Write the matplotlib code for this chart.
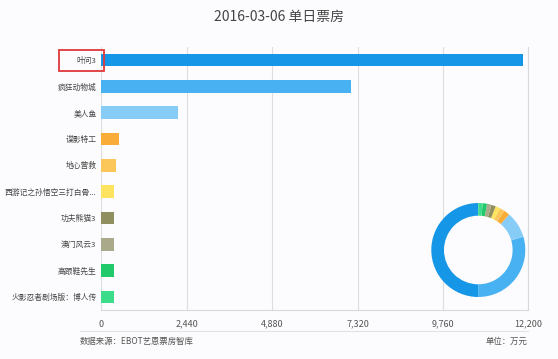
# Daily box office bar chart with donut inset
import matplotlib.pyplot as plt
from matplotlib.patches import Rectangle

plt.rcParams['font.family'] = ['Noto Sans CJK SC', 'DejaVu Sans']

films = ["叶问3", "疯狂动物城", "美人鱼", "谍影特工", "地心营救",
         "西游记之孙悟空三打白骨...", "功夫熊猫3", "澳门风云3", "高跟鞋先生",
         "火影忍者剧场版：博人传"]
box_office = [12050, 7140, 2190, 500, 410, 375, 370, 365, 362, 360]
colors = ["#1596e6", "#48b1f2", "#87ccf7", "#f9ac38", "#fbc65a", "#fde35e",
          "#8f8f5f", "#aaa989", "#22c96b", "#3cdc8b"]
xticks = [0, 2440, 4880, 7320, 9760, 12200]

fig = plt.figure(figsize=(5.58, 3.59), dpi=100, facecolor="#fcfcfe")

ax = fig.add_axes([101.3 / 558, 1 - 310 / 359, 427 / 558, 263 / 359])
ax.set_facecolor("#fcfcfe")
y = list(range(len(films)))
ax.barh(y, box_office, height=0.48, color=colors, zorder=2)
ax.set_ylim(len(films) - 0.5, -0.5)
ax.set_xlim(0, 12200)
ax.set_xticks(xticks)
ax.set_xticklabels([f"{v:,}" for v in xticks], fontsize=6.5, color="#555555")
ax.set_yticks(y)
ax.set_yticklabels(films, fontsize=5.6, color="#444444")
ax.tick_params(axis="x", length=0, pad=7)
ax.tick_params(axis="y", length=0, pad=3.5)
ax.grid(axis="x", color="#dddddd", linewidth=0.8, zorder=0)
for side in ["top", "left"]:
    ax.spines[side].set_visible(False)
ax.spines["bottom"].set_color("#d8d8d8")
ax.spines["right"].set_color("#d8d8d8")

# red box around the top film label
fig.patches.append(Rectangle((59 / 558, 1 - 71 / 359), 45 / 558, 21 / 359,
                             transform=fig.transFigure, fill=False,
                             edgecolor="#e0383b", linewidth=1.3))

fig.text(0.5, 1 - 17 / 359, "2016-03-06 单日票房", ha="center", va="center",
         fontsize=10, color="#444444")
fig.add_artist(plt.Line2D([80 / 558, 528 / 558], [1 - 331 / 359] * 2,
                          color="#e2e2e2", linewidth=0.8))
fig.text(80 / 558, 1 - 341 / 359, "数据来源：EBOT艺恩票房智库", ha="left",
         va="center", fontsize=6, color="#555555")
fig.text(527 / 558, 1 - 341 / 359, "单位：万元", ha="right", va="center",
         fontsize=6, color="#555555")

# donut
dax = fig.add_axes([(478.3 - 47) / 558, (359 - 250 - 47) / 359, 94 / 558, 94 / 359])
dax.pie(box_office, colors=colors, startangle=90, counterclock=True,
        wedgeprops=dict(width=0.27, linewidth=0))
dax.set_xlim(-1, 1)
dax.set_ylim(-1, 1)
dax.set_aspect("equal")

fig.savefig("out.png", dpi=100, facecolor=fig.get_facecolor())
